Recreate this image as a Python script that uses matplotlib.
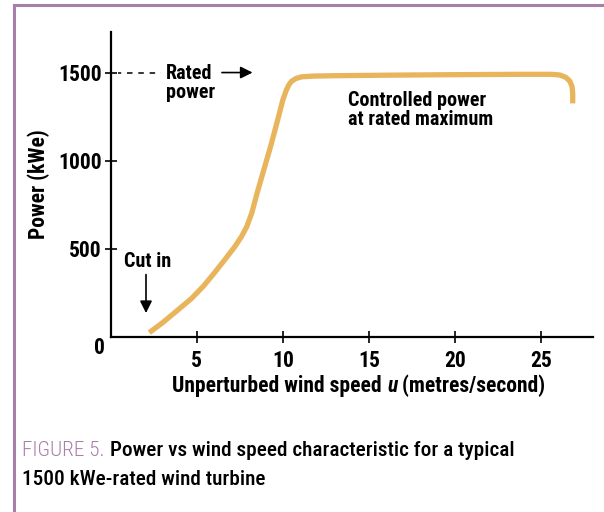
import matplotlib.pyplot as plt
from matplotlib import font_manager
from matplotlib.lines import Line2D
from matplotlib.transforms import offset_copy

# pick a condensed sans if one is installed
installed = {f.name for f in font_manager.fontManager.ttflist}
candidates = ["Roboto Condensed", "Archivo Narrow", "PT Sans Narrow",
              "Liberation Sans Narrow", "Barlow Condensed", "Sofia Sans Condensed",
              "Fira Sans Condensed", "Encode Sans Condensed", "Open Sans Condensed"]
font = next((c for c in candidates if c in installed), "DejaVu Sans")
plt.rcParams["font.family"] = [font, "DejaVu Sans"]

# values
wind_speed = [2.24, 3.0, 3.8, 4.7, 5.4, 6.0, 6.6, 7.2, 7.6, 7.9, 8.2, 8.5,
              8.9, 9.3, 9.75, 10.0, 10.2, 10.35, 10.5, 10.75, 11.1, 11.8, 13,
              16, 20, 24, 25.6, 26.1, 26.45, 26.68, 26.8, 26.84, 26.84]
power = [25, 80, 145, 219, 290, 361, 435, 511, 570, 625, 705, 815,
         950, 1085, 1250, 1345, 1400, 1430, 1450, 1466, 1476, 1480, 1482,
         1485, 1488, 1490, 1490, 1486, 1472, 1450, 1420, 1380, 1325]

x_ticks = [5, 10, 15, 20, 25]
y_ticks = [500, 1000, 1500]
rated = 1500

curve_color = "#E8B55C"
frame_color = "#A77FA8"
fs = 14.5       # annotations
fs_tick = 15.5
fs_label = 15.5
fs_cap = 15.3

fig = plt.figure(figsize=(6.04, 5.12), dpi=100)
ax = fig.add_axes([0.1833, 0.3418, 0.798, 0.5957])

ax.plot(wind_speed, power, color=curve_color, lw=3.8, solid_capstyle="butt",
        solid_joinstyle="round")

ax.set_xlim(0, 28)
ax.set_ylim(0, 1730)
for s in ["top", "right"]:
    ax.spines[s].set_visible(False)
for s in ["left", "bottom"]:
    ax.spines[s].set_linewidth(1.6)

ax.set_xticks(x_ticks)
ax.set_yticks(y_ticks)
ax.tick_params(direction="inout", length=9, width=1.2, labelsize=fs_tick, pad=2)
ax.tick_params(axis="x", pad=5)
for lab in ax.get_xticklabels() + ax.get_yticklabels():
    lab.set_fontweight("bold")
ax.text(-0.35, -65, "0", ha="right", va="center", fontsize=fs_tick, fontweight="bold")
ax.set_ylabel("Power (kWe)", fontsize=fs_label, fontweight="bold", labelpad=6)

# x label: plain / italic / plain pieces placed one after another
fig.canvas.draw()
r = fig.canvas.get_renderer()
pieces = [("Unperturbed wind speed ", "normal"), ("u", "italic"),
          (" (metres/second)", "normal")]
widths = []
for txt, style in pieces:
    t = fig.text(0, 0, txt, fontsize=fs_label, fontweight="bold", fontstyle=style)
    widths.append(t.get_window_extent(r).width)
    t.remove()
x0 = 359 - sum(widths) / 2
for (txt, style), w in zip(pieces, widths):
    fig.text(x0 / 604, 1 - 386 / 512, txt, fontsize=fs_label, fontweight="bold",
             fontstyle=style, va="center", ha="left")
    x0 += w

# rated power annotation
ax.plot([0.4, 2.9], [rated, rated], color="black", lw=1.1, ls=(1.5, (3.6, 3.8)))
ax.text(3.2, rated, "Rated\npower", fontsize=fs, fontweight="bold",
        ha="left", va="center", linespacing=1.0,
        transform=offset_copy(ax.transData, fig=fig, y=-10, units="dots"))
ax.annotate("", xy=(8.4, rated), xytext=(6.3, rated),
            arrowprops=dict(arrowstyle="-|>", color="black", lw=1.2,
                            mutation_scale=18))

# cut in annotation
ax.text(2.15, 428, "Cut in", fontsize=fs, fontweight="bold", ha="center", va="center")
ax.annotate("", xy=(2.05, 120), xytext=(2.05, 370),
            arrowprops=dict(arrowstyle="-|>", color="black", lw=1.2,
                            mutation_scale=18))

ax.text(13.8, 1285, "Controlled power\nat rated maximum", fontsize=fs,
        fontweight="bold", ha="left", va="center", linespacing=1.0)

# purple frame
fig.add_artist(Line2D([0.0235, 0.0235], [0, 0.99], color=frame_color, lw=2.2,
                      transform=fig.transFigure))
fig.add_artist(Line2D([0.0235, 1], [0.99, 0.99], color=frame_color, lw=2.2,
                      transform=fig.transFigure))

# caption
cap_y1 = 1 - 456 / 512
cap_y2 = 1 - 485 / 512
t = fig.text(22 / 604, cap_y1, "FIGURE 5.", color=frame_color, fontsize=fs_cap,
             fontweight="light", va="baseline")
w = t.get_window_extent(r).width
fig.text((22 + w + 5) / 604, cap_y1, "Power vs wind speed characteristic for a typical",
         color="black", fontsize=fs_cap, fontweight="medium", va="baseline")
fig.text(22 / 604, cap_y2, "1500 kWe-rated wind turbine", color="black",
         fontsize=fs_cap, fontweight="medium", va="baseline")

fig.savefig("out.png", dpi=100)
